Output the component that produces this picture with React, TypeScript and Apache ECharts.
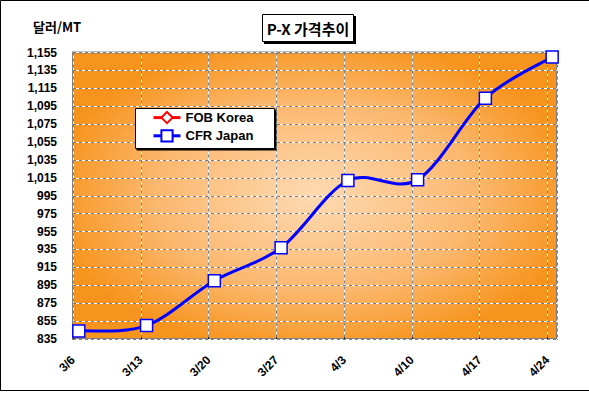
import React, { useEffect, useRef } from "react";
import * as echarts from "echarts";

const xLabels = ["3/6", "3/13", "3/20", "3/27", "4/3", "4/10", "4/17", "4/24"];
// day offsets from 3/6 at which the points sit
const pointDays = [0.6, 7.6, 14.6, 21.5, 28.4, 35.6, 42.6, 49.5];
const cfrJapan = [844, 850, 900, 937, 1012, 1013, 1104, 1150];
const fobKorea: number[] = [];
const yMin = 835;
const yMax = 1155;
const yStep = 20;
const dayStep = 7;
const dayMax = 50;

const NUM_FONT = "'Liberation Sans', Arial, 'Noto Sans CJK KR', sans-serif";
const KR_FONT = "'Noto Sans CJK KR', 'Liberation Sans', sans-serif";

function catmullPath(pts: number[][]): string {
  if (!pts.length) return "";
  let d = `M${pts[0][0]},${pts[0][1]}`;
  for (let i = 0; i < pts.length - 1; i++) {
    const p0 = pts[i - 1] ?? pts[i];
    const p1 = pts[i];
    const p2 = pts[i + 1];
    const p3 = pts[i + 2] ?? pts[i + 1];
    const c1x = p1[0] + (p2[0] - p0[0]) / 6;
    const c1y = p1[1] + (p2[1] - p0[1]) / 6;
    const c2x = p2[0] - (p3[0] - p1[0]) / 6;
    const c2y = p2[1] - (p3[1] - p1[1]) / 6;
    d += ` C${c1x},${c1y} ${c2x},${c2y} ${p2[0]},${p2[1]}`;
  }
  return d;
}

export default function App() {
  const ref = useRef<HTMLDivElement>(null);
  useEffect(() => {
    if (!ref.current) return;
    const chart = echarts.init(ref.current, null, { renderer: "svg" });
    const cfrData = cfrJapan.map((v, i) => [pointDays[i], v - yMin]);
    const fobData = fobKorea.map((v, i) => [pointDays[i], v - yMin]);
    const xLabelFmt = (v: number) => {
      const i = Math.round(v / dayStep);
      if (Math.abs(v - i * dayStep) > 1e-6) return "";
      return xLabels[i] ?? "";
    };
    const baseX = { type: "value" as const, min: 0, max: dayMax, interval: dayStep };
    const baseY = { type: "value" as const, min: 0, max: yMax - yMin, interval: yStep };

    const curveSeries = (name: string, data: number[][], color: string, z: number) => ({
      name,
      type: "custom",
      xAxisIndex: 0,
      yAxisIndex: 0,
      data,
      z,
      silent: true,
      renderItem: (params: any, api: any) => {
        if (params.dataIndex !== 0) return null;
        const pts = data.map((p) => api.coord(p));
        return {
          type: "path",
          shape: { pathData: catmullPath(pts) },
          style: { fill: "none", stroke: color, lineWidth: 3 },
        };
      },
    });

    chart.setOption({
      animation: false,
      backgroundColor: "#ffffff",
      grid: {
        left: 73,
        right: 32,
        top: 52.5,
        bottom: 54,
        show: true,
        borderColor: "#808080",
        borderWidth: 2,
        backgroundColor: {
          type: "radial",
          x: 0.5,
          y: 0.5,
          r: 0.55,
          colorStops: [
            { offset: 0, color: "#FDDAB3" },
            { offset: 0.6, color: "#FBB86F" },
            { offset: 1, color: "#F7941D" },
          ],
        },
      },
      xAxis: [
        {
          ...baseX,
          position: "bottom",
          axisLine: { show: false },
          axisTick: { show: true, inside: true, length: 4, lineStyle: { color: "#000" } },
          axisLabel: {
            rotate: 45,
            margin: 19,
            color: "#000",
            fontSize: 12,
            fontWeight: "bold",
            fontFamily: NUM_FONT,
            formatter: xLabelFmt,
            showMaxLabel: false,
          },
          splitLine: { show: true, lineStyle: { color: "#ffffff", width: 1 } },
        },
        {
          ...baseX,
          position: "top",
          z: 1,
          axisLine: { show: false },
          axisTick: { show: false },
          axisLabel: { show: false },
          splitLine: { show: true, lineStyle: { color: "#808080", width: 1, type: [3, 3] } },
        },
      ],
      yAxis: [
        {
          ...baseY,
          position: "left",
          axisLine: { show: false },
          axisTick: { show: false },
          axisLabel: {
            margin: 16,
            color: "#000",
            fontSize: 12,
            fontWeight: "bold",
            fontFamily: NUM_FONT,
            formatter: (v: number) => (v + yMin).toLocaleString("en-US"),
          },
          splitLine: { show: true, lineStyle: { color: "#ffffff", width: 1 } },
        },
        {
          ...baseY,
          position: "right",
          z: 1,
          axisLine: { show: false },
          axisTick: { show: false },
          axisLabel: { show: false },
          splitLine: { show: true, lineStyle: { color: "#808080", width: 1, type: [3, 3] } },
        },
      ],
      legend: {
        orient: "vertical",
        left: 152,
        top: 111,
        padding: 0,
        itemWidth: 27,
        itemHeight: 14,
        itemGap: 5,
        z: 6,
        textStyle: { color: "#000", fontSize: 13, fontWeight: "bold", fontFamily: NUM_FONT },
        data: [
          { name: "FOB Korea", lineStyle: { color: "#FF0000", width: 3, opacity: 1 } },
          { name: "CFR Japan", lineStyle: { color: "#0000FF", width: 3, opacity: 1 } },
        ],
      },
      graphic: [
        {
          type: "polyline",
          silent: true,
          shape: { points: [[0.5, 390.5], [0.5, 0.5], [589, 0.5]] },
          style: { stroke: "#000", lineWidth: 1, fill: null },
        },
        {
          type: "line",
          silent: true,
          shape: { x1: 0, y1: 390.5, x2: 589, y2: 390.5 },
          style: { stroke: "#000", lineWidth: 1 },
        },
        {
          type: "text",
          left: 33,
          top: 20,
          style: { text: "달러/MT", fill: "#000", font: `bold 13px ${KR_FONT}` },
        },
        {
          type: "rect",
          silent: true,
          shape: { x: 264, y: 16, width: 92, height: 28 },
          style: { fill: "#000" },
        },
        {
          type: "rect",
          silent: true,
          shape: { x: 262.5, y: 14.5, width: 91, height: 27 },
          style: { fill: "#fff", stroke: "#000", lineWidth: 1 },
        },
        {
          type: "text",
          x: 308,
          y: 28.5,
          style: {
            text: "P-X 가격추이",
            fill: "#000",
            font: `bold 15px ${KR_FONT}`,
            align: "center",
            verticalAlign: "middle",
          },
        },
        {
          type: "rect",
          silent: true,
          z: 5,
          shape: { x: 136.5, y: 109.5, width: 140, height: 41 },
          style: { fill: "#000" },
        },
        {
          type: "rect",
          silent: true,
          z: 5,
          shape: { x: 135.5, y: 108.5, width: 139, height: 40 },
          style: { fill: "#fff", stroke: "#000", lineWidth: 1 },
        },
      ],
      series: [
        curveSeries("FOB Korea curve", fobData, "#FF0000", 3),
        {
          name: "FOB Korea",
          type: "line",
          xAxisIndex: 0,
          yAxisIndex: 0,
          data: fobData,
          symbol: "diamond",
          symbolSize: 10,
          lineStyle: { color: "#FF0000", width: 0, opacity: 0 },
          itemStyle: { color: "#ffffff", borderColor: "#FF0000", borderWidth: 1.5 },
          z: 3,
        },
        curveSeries("CFR Japan curve", cfrData, "#0000FF", 4),
        {
          name: "CFR Japan",
          type: "line",
          xAxisIndex: 0,
          yAxisIndex: 0,
          data: cfrData,
          symbol: "rect",
          symbolSize: 12,
          showAllSymbol: true,
          clip: false,
          lineStyle: { color: "#0000FF", width: 0, opacity: 0 },
          itemStyle: { color: "#ffffff", borderColor: "#0000FF", borderWidth: 1.5 },
          z: 5,
        },
      ],
    });
    return () => chart.dispose();
  }, []);
  return (
    <div
      ref={ref}
      style={{ position: "fixed", left: 0, top: 0, width: 589, height: 393, background: "#fff" }}
    />
  );
}
